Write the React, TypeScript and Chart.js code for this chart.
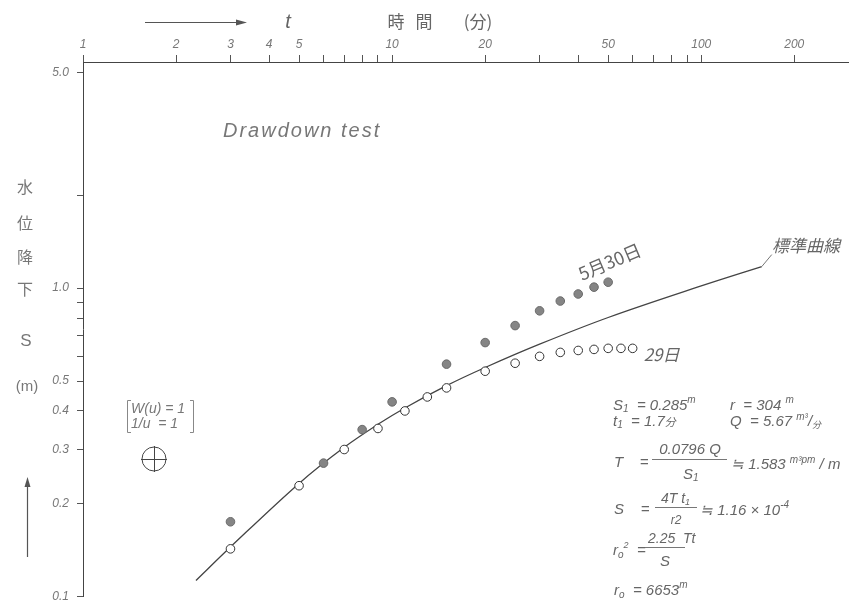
import React, { useEffect, useRef } from 'react';
import { Chart, registerables } from 'chart.js';

Chart.register(...registerables);

// ---- axis ticks ----
const timeTicks = [1, 2, 3, 4, 5, 6, 7, 8, 9, 10, 20, 30, 40, 50, 60, 70, 80, 90, 100, 200];
const timeLabels = [1, 2, 3, 4, 5, 10, 20, 50, 100, 200];
const sTicks = [0.1, 0.2, 0.3, 0.4, 0.5, 0.6, 0.7, 0.8, 0.9, 1, 2, 5];
const sLabels = [0.1, 0.2, 0.3, 0.4, 0.5, 1, 5];

// ---- data: 29日 (open circles) ----
const may29Time = [3, 5, 7, 9, 11, 13, 15, 20, 25, 30, 35, 40, 45, 50, 55, 60];
const may29S = [0.143, 0.229, 0.3, 0.351, 0.4, 0.444, 0.475, 0.538, 0.571, 0.601, 0.619, 0.628, 0.633, 0.638, 0.638, 0.638];

// ---- data: 5月30日 (filled circles) ----
const may30Time = [3, 6, 8, 10, 15, 20, 25, 30, 35, 40, 45, 50];
const may30S = [0.175, 0.271, 0.348, 0.428, 0.567, 0.666, 0.756, 0.844, 0.908, 0.957, 1.007, 1.045];

// ---- 標準曲線 (type curve) ----
const curveTime = [2.32, 3, 5, 7, 9, 11, 15, 20, 30, 50, 100, 157];
const curveS = [0.113, 0.145, 0.233, 0.305, 0.362, 0.409, 0.483, 0.553, 0.658, 0.803, 1.016, 1.174];

const SANS = '"Liberation Sans", Arial, sans-serif';
const CJK = '"Noto Sans CJK JP", "Noto Sans CJK SC", sans-serif';
const INK = '#666';
const LINE = '#444';

type Seg = [string, number, number?, string?];

function rich(ctx: CanvasRenderingContext2D, x: number, y: number, segs: Seg[], color = INK) {
  ctx.save();
  ctx.textAlign = 'left';
  ctx.textBaseline = 'alphabetic';
  ctx.fillStyle = color;
  let cx = x;
  for (const [s, size, dy = 0, fam] of segs) {
    ctx.font = `italic ${size}px ${fam || SANS}`;
    ctx.fillText(s, cx, y + dy);
    cx += ctx.measureText(s).width;
  }
  ctx.restore();
  return cx;
}

function centerText(ctx: CanvasRenderingContext2D, s: string, x: number, y: number, size: number, italic = true, fam = SANS, color = INK) {
  ctx.save();
  ctx.font = `${italic ? 'italic ' : ''}${size}px ${fam}`;
  ctx.fillStyle = color;
  ctx.textAlign = 'center';
  ctx.textBaseline = 'middle';
  ctx.fillText(s, x, y);
  ctx.restore();
}

function hline(ctx: CanvasRenderingContext2D, x1: number, x2: number, y: number, color = '#777') {
  ctx.save();
  ctx.strokeStyle = color;
  ctx.lineWidth = 1;
  ctx.beginPath();
  ctx.moveTo(x1, y + 0.5);
  ctx.lineTo(x2, y + 0.5);
  ctx.stroke();
  ctx.restore();
}

const annotations = {
  id: 'annotations',
  afterDraw(chart: any) {
    const ctx: CanvasRenderingContext2D = chart.ctx;
    const xs = chart.scales.x;
    const ys = chart.scales.y;

    // top title row: arrow, t, 時間(分)
    ctx.save();
    ctx.strokeStyle = '#555';
    ctx.fillStyle = '#555';
    ctx.lineWidth = 1.2;
    ctx.beginPath();
    ctx.moveTo(145, 22.5);
    ctx.lineTo(240, 22.5);
    ctx.stroke();
    ctx.beginPath();
    ctx.moveTo(247, 22.5);
    ctx.lineTo(236, 19.5);
    ctx.lineTo(236, 25.5);
    ctx.closePath();
    ctx.fill();
    ctx.restore();
    centerText(ctx, 't', 288, 22, 20, true, SANS, '#666');
    centerText(ctx, '時', 396, 22, 17, false, CJK, '#666');
    centerText(ctx, '間', 424, 22, 17, false, CJK, '#666');
    centerText(ctx, '(分)', 478, 22, 17, false, CJK, '#666');

    // left vertical label
    centerText(ctx, '水', 25, 187, 16, false, CJK, '#777');
    centerText(ctx, '位', 25, 223, 16, false, CJK, '#777');
    centerText(ctx, '降', 25, 257, 16, false, CJK, '#777');
    centerText(ctx, '下', 25, 289, 16, false, CJK, '#777');
    centerText(ctx, 'S', 26, 341, 17, false, SANS, '#777');
    centerText(ctx, '(m)', 27, 387, 15, false, SANS, '#777');

    // left up-arrow
    ctx.save();
    ctx.strokeStyle = '#555';
    ctx.fillStyle = '#555';
    ctx.lineWidth = 1.2;
    ctx.beginPath();
    ctx.moveTo(27.5, 557);
    ctx.lineTo(27.5, 484);
    ctx.stroke();
    ctx.beginPath();
    ctx.moveTo(27.5, 477);
    ctx.lineTo(24.5, 487);
    ctx.lineTo(30.5, 487);
    ctx.closePath();
    ctx.fill();
    ctx.restore();

    // Drawdown test
    ctx.save();
    ctx.font = `italic 20px ${SANS}`;
    (ctx as any).letterSpacing = '2px';
    ctx.fillStyle = '#777';
    ctx.textAlign = 'left';
    ctx.textBaseline = 'middle';
    ctx.fillText('Drawdown test', 223, 131);
    ctx.restore();

    // W(u)=1, 1/u=1 box and match point
    rich(ctx, 131, 413, [['W(u) = 1', 14]], '#777');
    rich(ctx, 131, 428, [['1/u  = 1', 14]], '#777');
    ctx.save();
    ctx.strokeStyle = '#888';
    ctx.lineWidth = 1;
    ctx.beginPath();
    ctx.moveTo(131, 400.5); ctx.lineTo(127.5, 400.5); ctx.lineTo(127.5, 432.5); ctx.lineTo(131, 432.5);
    ctx.moveTo(190, 400.5); ctx.lineTo(193.5, 400.5); ctx.lineTo(193.5, 432.5); ctx.lineTo(190, 432.5);
    ctx.stroke();
    ctx.strokeStyle = '#444';
    ctx.beginPath();
    ctx.arc(154, 459, 12, 0, Math.PI * 2);
    ctx.moveTo(141, 459.5); ctx.lineTo(167, 459.5);
    ctx.moveTo(154.5, 446); ctx.lineTo(154.5, 472);
    ctx.stroke();
    ctx.restore();

    // curve label with leader line from end of curve
    const ex = xs.getPixelForValue(curveTime[curveTime.length - 1]);
    const ey = ys.getPixelForValue(curveS[curveS.length - 1]);
    ctx.save();
    ctx.strokeStyle = '#777';
    ctx.lineWidth = 1;
    ctx.beginPath();
    ctx.moveTo(ex, ey);
    ctx.lineTo(ex + 10, ey - 12);
    ctx.stroke();
    ctx.restore();
    rich(ctx, 772, 252, [['標準曲線', 17, 0, CJK]], '#666');

    // series labels
    ctx.save();
    ctx.translate(582, 281);
    ctx.rotate(-23 * Math.PI / 180);
    ctx.font = `18px ${CJK}`;
    ctx.fillStyle = '#666';
    ctx.textBaseline = 'alphabetic';
    ctx.fillText('5月30日', 0, 0);
    ctx.restore();
    const lx = xs.getPixelForValue(may29Time[may29Time.length - 1]);
    rich(ctx, lx + 11, 361, [['29日', 17, 0, CJK]], '#666');

    // formulas
    rich(ctx, 613, 410, [['S', 15], ['1', 10, 2], ['  = 0.285', 15], ['m', 10, -7]]);
    rich(ctx, 730, 410, [['r', 15], ['  = 304 ', 15], ['m', 10, -7]]);
    rich(ctx, 613, 426, [['t', 15], ['1', 10, 2], ['  = 1.7', 15], ['分', 11, 0, CJK]]);
    rich(ctx, 730, 426, [['Q  = 5.67 ', 15], ['m³', 10, -6], ['/', 15], ['分', 9, 2, CJK]]);

    rich(ctx, 614, 467, [['T    =', 15]]);
    centerText(ctx, '0.0796 Q', 690, 450, 15);
    hline(ctx, 652, 727, 459);
    rich(ctx, 683, 479, [['S', 15], ['1', 10, 2]]);
    rich(ctx, 731, 469, [['≒ 1.583 ', 15], ['m³pm', 10, -6], [' / m', 15]]);

    rich(ctx, 614, 514, [['S    =', 15]]);
    rich(ctx, 661, 503, [['4T t', 14], ['1', 9, 2]]);
    hline(ctx, 655, 697, 507);
    centerText(ctx, 'r2', 676, 521, 12);
    rich(ctx, 700, 515, [['≒ 1.16 × 10', 15], ['-4', 10, -7]]);

    rich(ctx, 613, 555, [['r', 15], ['o', 10, 3], ['2', 9, -7], ['  =', 15]]);
    rich(ctx, 648, 543, [['2.25  Tt', 14]]);
    hline(ctx, 645, 685, 547);
    centerText(ctx, 'S', 665, 562, 15);

    rich(ctx, 614, 595, [['r', 15], ['o', 10, 3], ['  = 6653', 15], ['m', 10, -7]]);
  },
};

export default function App() {
  const ref = useRef<HTMLCanvasElement>(null);

  useEffect(() => {
    const tickFont = { family: SANS, style: 'italic' as const, size: 12 };
    const chart = new Chart(ref.current as HTMLCanvasElement, {
      type: 'scatter',
      data: {
        datasets: [
          {
            label: '29日',
            data: may29Time.map((t, i) => ({ x: t, y: may29S[i] })),
            pointRadius: 4.3,
            pointBackgroundColor: '#fff',
            pointBorderColor: '#333',
            pointBorderWidth: 1,
            showLine: false,
          },
          {
            label: '5月30日',
            data: may30Time.map((t, i) => ({ x: t, y: may30S[i] })),
            pointRadius: 4.3,
            pointBackgroundColor: '#858585',
            pointBorderColor: '#6a6a6a',
            pointBorderWidth: 1,
            showLine: false,
          },
          {
            label: '標準曲線',
            data: curveTime.map((t, i) => ({ x: t, y: curveS[i] })),
            showLine: true,
            pointRadius: 0,
            borderColor: LINE,
            borderWidth: 1.3,
            tension: 0.35,
            fill: false,
          },
        ],
      },
      options: {
        responsive: false,
        animation: false,
        events: [],
        layout: { padding: { left: 0, top: 0, right: 0, bottom: 10 } },
        plugins: { legend: { display: false }, tooltip: { enabled: false } },
        scales: {
          x: {
            type: 'logarithmic',
            position: 'top',
            min: 1,
            max: 300,
            afterBuildTicks: (s: any) => {
              s.ticks = timeTicks.map((v) => ({ value: v }));
            },
            afterFit: (s: any) => {
              s.height = 62;
            },
            grid: { drawOnChartArea: false, drawTicks: true, tickLength: 7, color: '#555' },
            border: { display: true, color: LINE, width: 1 },
            ticks: {
              autoSkip: false,
              maxRotation: 0,
              minRotation: 0,
              padding: 3,
              color: '#777',
              font: tickFont,
              callback: (v: any) => (timeLabels.includes(Number(v)) ? String(v) : ''),
            },
          },
          y: {
            type: 'logarithmic',
            position: 'left',
            min: 0.1,
            max: 5.4,
            afterBuildTicks: (s: any) => {
              s.ticks = sTicks.map((v) => ({ value: v }));
            },
            afterFit: (s: any) => {
              s.width = 83;
            },
            grid: { drawOnChartArea: false, drawTicks: true, tickLength: 6, color: '#555' },
            border: { display: true, color: LINE, width: 1 },
            ticks: {
              autoSkip: false,
              padding: 8,
              color: '#777',
              font: tickFont,
              callback: (v: any) => (sLabels.includes(Number(v)) ? Number(v).toFixed(1) : ''),
            },
          },
        },
      },
      plugins: [annotations],
    });
    return () => chart.destroy();
  }, []);

  return (
    <div style={{ position: 'absolute', left: 0, top: 0, width: 854, height: 612, background: '#fff' }}>
      <canvas ref={ref} width={854} height={612} style={{ display: 'block', width: 854, height: 612 }} />
    </div>
  );
}
